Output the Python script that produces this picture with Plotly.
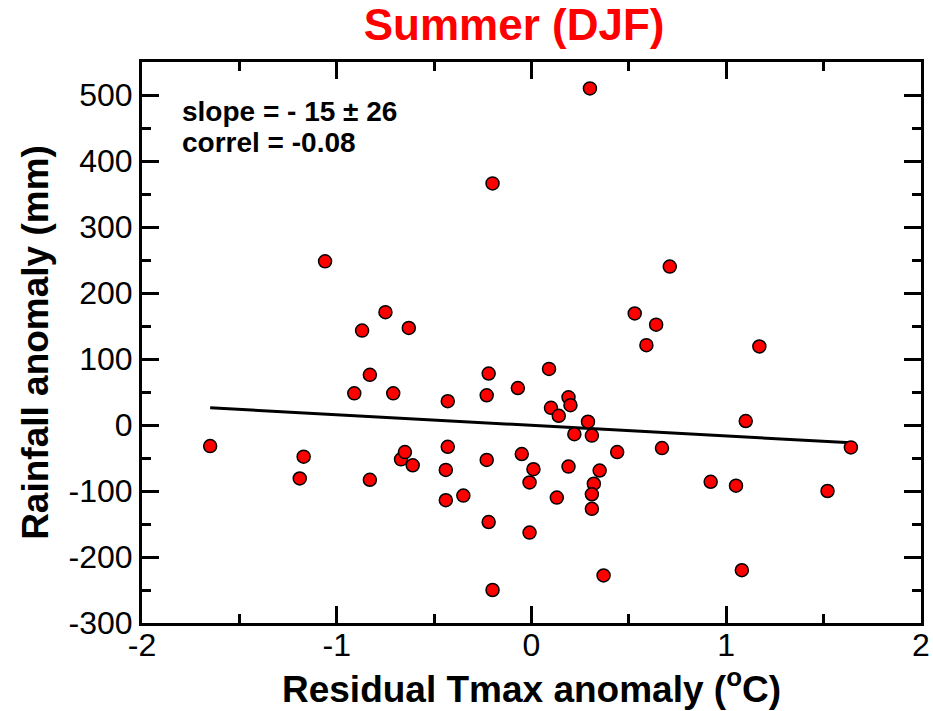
import plotly.graph_objects as go

# residual Tmax anomaly (deg C) vs rainfall anomaly (mm), summer DJF
tmax_anom = [0.30, -0.20, -1.06, -0.75, -0.87, -0.63, 0.71, 0.53, 0.64, 0.59,
             1.17, 0.09, -0.07, -0.22, -0.23, -0.83, -0.91, -0.71, -0.43, -1.65,
             -1.17, -1.19, -0.83, -0.67, -0.65, -0.61, -0.43, -0.44, -0.44, -0.35,
             -0.23, -0.22, -0.20, -0.05, 0.01, -0.01, -0.01, 0.13, 0.19, 0.10,
             0.14, 0.19, 0.20, 0.29, 0.22, 0.31, 0.35, 0.32, 0.31, 0.31,
             0.37, 0.44, 0.67, 0.92, 1.05, 1.10, 1.08, 1.52, 1.64]
rain_anom = [510, 366, 248, 171, 143, 147, 240, 169, 152, 121,
             119, 85, 56, 78, 45, 76, 48, 48, 36, -32,
             -48, -81, -83, -52, -41, -61, -33, -68, -114, -107,
             -53, -147, -250, -44, -67, -87, -163, -110, -63, 26,
             14, 42, 30, 5, -14, -16, -69, -89, -105, -127,
             -228, -41, -35, -86, -92, 6, -220, -100, -34]

# least-squares line as drawn in the figure
fit_x = [-1.65, 1.64]
fit_y = [26, -27]

# tick labels use a plain hyphen like the original
x_ticks = [-2, -1, 0, 1, 2]
x_ticklabels = ["-2", "-1", "0", "1", "2"]
y_ticks = [-300, -200, -100, 0, 100, 200, 300, 400, 500]
y_ticklabels = ["-300", "-200", "-100", "0", "100", "200", "300", "400", "500"]

slope_text = "slope = - 15 ± 26"
correl_text = "correl = -0.08"

FONT = "Liberation Sans, Arial, Helvetica, sans-serif"


def plot_rain_vs_tmax():
    fig = go.Figure()

    fig.add_trace(go.Scatter(
        x=fit_x, y=fit_y,
        mode="lines",
        line=dict(color="black", width=3),
        showlegend=False,
    ))
    fig.add_trace(go.Scatter(
        x=tmax_anom, y=rain_anom,
        mode="markers",
        marker=dict(size=13, color="#ff0000",
                    line=dict(color="black", width=1.5)),
        showlegend=False,
    ))

    axis_style = dict(
        showline=True, linecolor="black", linewidth=3, mirror="allticks",
        ticks="inside", ticklen=17, tickwidth=3, tickcolor="black",
        showgrid=False, zeroline=False, automargin=False,
        tickfont=dict(family=FONT, size=32, color="black"),
    )

    fig.update_xaxes(
        range=[-2, 2], tickvals=x_ticks, ticktext=x_ticklabels,
        ticklabelstandoff=-8,
        minor=dict(dtick=0.5, ticks="inside", ticklen=9, tickwidth=3,
                   tickcolor="black", showgrid=False),
        title=dict(text="Residual Tmax anomaly (<sup>o</sup>C)", standoff=12,
                   font=dict(family=FONT, size=37, color="black", weight="bold")),
        **axis_style,
    )
    fig.update_yaxes(
        range=[-300, 550], tickvals=y_ticks, ticktext=y_ticklabels,
        minor=dict(dtick=50, ticks="inside", ticklen=9, tickwidth=3,
                   tickcolor="black", showgrid=False),
        title=dict(text="Rainfall anomaly (mm)", standoff=9,
                   font=dict(family=FONT, size=37, color="black", weight="bold")),
        **axis_style,
    )

    fig.add_annotation(x=0.049, y=0.911, xref="paper", yref="paper",
                       text=slope_text, showarrow=False,
                       xanchor="left", yanchor="middle",
                       font=dict(family=FONT, size=28, color="black", weight="bold"))
    fig.add_annotation(x=0.049, y=0.857, xref="paper", yref="paper",
                       text=correl_text, showarrow=False,
                       xanchor="left", yanchor="middle",
                       font=dict(family=FONT, size=28, color="black", weight="bold"))

    fig.update_layout(
        title=dict(text="Summer (DJF)", x=0.551, xanchor="center",
                   y=0.966, yanchor="middle",
                   font=dict(family=FONT, size=44, color="#ff0000", weight="bold")),
        width=933, height=711,
        margin=dict(l=142, r=12, t=62, b=88),
        plot_bgcolor="white", paper_bgcolor="white",
    )
    return fig


fig = plot_rain_vs_tmax()
# drop the browser's default body margin so the figure sits at the page corner
fig.write_html("out.html", config={"displayModeBar": False},
               post_script="document.body.style.margin = '0';")
